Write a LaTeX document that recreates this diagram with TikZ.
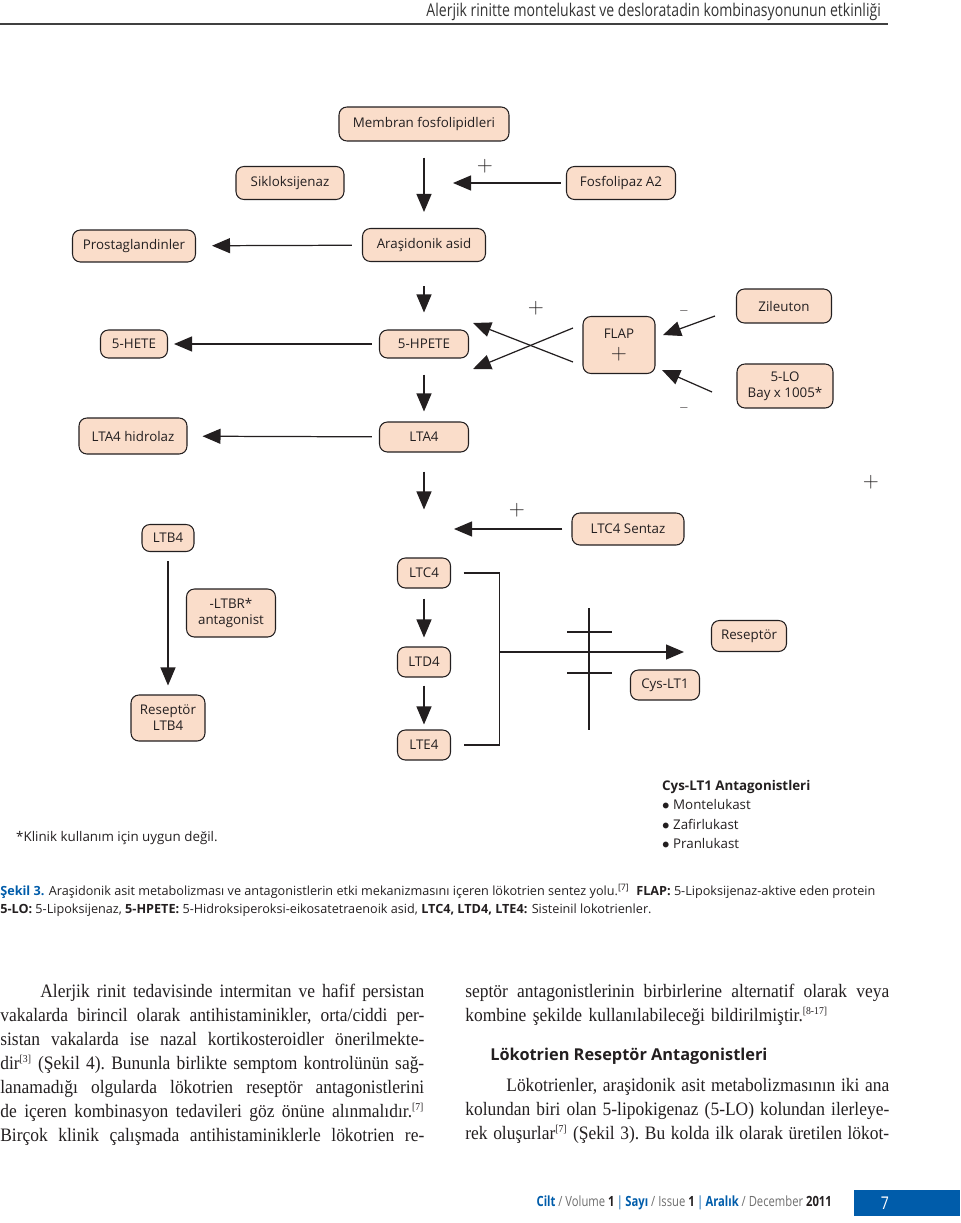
\documentclass[tikz,border=0pt]{standalone}
\usepackage{fontspec}
\usepackage{xcolor}
\usepackage{tikz}
\setmainfont{Liberation Serif}[FakeStretch=0.92]
\setsansfont{Open Sans}
\newfontfamily\narrowsans{Open Sans}[FakeStretch=0.8]
\usetikzlibrary{arrows.meta}
\definecolor{peach}{RGB}{250, 221, 202}
\definecolor{inkblack}{RGB}{35, 31, 32}
\definecolor{journalblue}{RGB}{0, 92, 170}
\definecolor{footgray}{RGB}{110, 110, 110}

\newdimen\bodywidth
\bodywidth=8.48cm
\newcommand{\jline}[1]{\par\hbox to\bodywidth{\spaceskip=0.25em plus 1em minus 0.08em\relax #1}}
\newcommand{\lline}[1]{\par\hbox to\bodywidth{#1\hfil}}
\newcommand{\refmark}[1]{\textsuperscript{\fontsize{6}{6}\selectfont[#1]}}

\begin{document}
\begin{tikzpicture}[x=0.02cm, y=-0.02cm,
    every node/.style={font=\sffamily\fontsize{7.6}{9}\selectfont, text=inkblack},
    stage/.style={draw=inkblack, line width=0.6pt, fill=peach, rounded corners=4.5pt, inner sep=1pt, align=center},
    arrow/.style={-{Triangle[length=0.36cm, width=0.3cm]}, line width=0.7pt, draw=inkblack},
    link/.style={line width=0.7pt, draw=inkblack},
    plus/.style={font=\fontsize{12.5}{12.5}\selectfont, inner sep=0pt},
    minus/.style={font=\fontsize{6}{6}\selectfont, inner sep=0pt},
    bodytext/.style={font=\rmfamily\fontsize{10.8}{13.66}\selectfont\frenchspacing, text width=8.5cm, inner sep=0pt, anchor=north west}
]
\useasboundingbox (0,0) rectangle (960,1223);

% Running head
\node[font=\narrowsans\fontsize{10}{12}\selectfont, text=black!80, anchor=east] (runhead) at (887,12) {Alerjik rinitte montelukast ve desloratadin kombinasyonunun etkinliği};
\draw[line width=1pt, black!75] (0,24) -- (888,24);

% Top of the pathway
\node[stage, minimum width=3.4cm, minimum height=0.68cm] (memb) at (424,124) {Membran fosfolipidleri};
\node[stage, minimum width=2.16cm, minimum height=0.66cm] (siklo) at (290,183) {Sikloksijenaz};
\node[stage, minimum width=2.18cm, minimum height=0.66cm] (fosfo) at (621,183) {Fosfolipaz A2};
\node[stage, minimum width=2.46cm, minimum height=0.66cm] (arasid) at (424,245) {Araşidonik asid};
\node[stage, minimum width=2.46cm, minimum height=0.64cm] (prosta) at (134,246) {Prostaglandinler};

% 5-LO branch
\node[stage, minimum width=1.78cm, minimum height=0.56cm] (hpete) at (424,344) {5-HPETE};
\node[stage, minimum width=1.34cm, minimum height=0.56cm] (hete) at (134,344) {5-HETE};
\node[stage, minimum width=1.44cm, minimum height=1.14cm] (flap) at (619,345) {FLAP\\[3pt]{\fontsize{12.5}{12.5}\selectfont$+$}};
\node[stage, minimum width=1.9cm, minimum height=0.68cm] (zileu) at (784,306) {Zileuton};
\node[stage, minimum width=1.92cm, minimum height=0.88cm] (fivelo) at (785,386) {5-LO\\[0pt]Bay x 1005*};
\node[stage, minimum width=1.78cm, minimum height=0.6cm] (lta) at (424,437) {LTA4};
\node[stage, minimum width=2.16cm, minimum height=0.72cm] (ltahyd) at (133,436) {LTA4 hidrolaz};

% Leukotrienes
\node[stage, minimum width=2.24cm, minimum height=0.64cm] (ltcsyn) at (628,529) {LTC4 Sentaz};
\node[stage, minimum width=1.04cm, minimum height=0.54cm] (ltb) at (168,538) {LTB4};
\node[stage, minimum width=1.06cm, minimum height=0.6cm] (ltc) at (424,573) {LTC4};
\node[stage, minimum width=1.78cm, minimum height=0.96cm] (ltbr) at (231,613) {-LTBR*\\[0pt]antagonist};
\node[stage, minimum width=1.5cm, minimum height=0.62cm] (resept) at (749,636) {Reseptör};
\node[stage, minimum width=1.06cm, minimum height=0.6cm] (ltd) at (424,662) {LTD4};
\node[stage, minimum width=1.38cm, minimum height=0.6cm] (cyslt) at (665,685) {Cys-LT1};
\node[stage, minimum width=1.48cm, minimum height=0.92cm] (reslt) at (168,718) {Reseptör\\[0pt]LTB4};
\node[stage, minimum width=1.06cm, minimum height=0.6cm] (lte) at (424,745) {LTE4};

% Free ends of connectors
\coordinate (pla2tip) at (453,183);
\coordinate (syntip) at (454,529);
\coordinate (zilstart) at (715,316);
\coordinate (ziltip) at (663,335);
\coordinate (lostart) at (712,392);
\coordinate (lotip) at (662,370);
\coordinate (crossastart) at (573,328);
\coordinate (crossatip) at (473,369);
\coordinate (crossbstart) at (573,362);
\coordinate (crossbtip) at (473,323);
\coordinate (join) at (499,652);
\coordinate (receptip) at (684,652);

% Signs
\node[plus] (plusa) at (485,166) {$+$};
\node[plus] (plusb) at (536,308) {$+$};
\node[plus] (plusc) at (517,510) {$+$};
\node[plus] (plusd) at (871,482) {$+$};
\node[minus] (minusa) at (684,311) {$-$};
\node[minus] (minusb) at (684,408) {$-$};

% Connections
\draw[arrow, shorten <=0.32cm, shorten >=0.32cm] (memb) -- (arasid);
\draw[arrow, shorten <=0.1cm] (fosfo) -- (pla2tip);
\draw[arrow, shorten <=0.2cm, shorten >=0.32cm] (arasid) -- (prosta);
\draw[arrow, shorten <=0.48cm, shorten >=0.34cm] (arasid) -- (hpete);
\draw[arrow, shorten <=0.14cm, shorten >=0.12cm] (hpete) -- (hete);
\draw[arrow, shorten <=0.32cm, shorten >=0.2cm] (hpete) -- (lta);
\draw[arrow, shorten <=0.14cm, shorten >=0.3cm] (lta) -- (ltahyd);
\draw[arrow] (zilstart) -- (ziltip);
\draw[arrow] (lostart) -- (lotip);
\draw[arrow] (crossastart) -- (crossatip);
\draw[arrow] (crossbstart) -- (crossbtip);
\draw[arrow, shorten <=0.38cm, shorten >=0.96cm] (lta) -- (ltc);
\draw[arrow, shorten <=0.18cm] (ltcsyn) -- (syntip);
\draw[arrow, shorten <=0.2cm, shorten >=0.18cm] (ltc) -- (ltd);
\draw[arrow, shorten <=0.16cm, shorten >=0.1cm] (ltd) -- (lte);
\draw[arrow, shorten <=0.18cm, shorten >=0.18cm] (ltb) -- (reslt);
\draw[link] ([xshift=0.25cm]ltc.east) -- ++(36,0) |- ([xshift=0.25cm]lte.east);
\draw[arrow] (join) -- (receptip);

% Membrane with receptor
\draw[link] (589,608) -- (589,730);
\draw[link] (567,632) -- (612,632);
\draw[link] (567,673) -- (612,673);

% Notes under the figure
\node[anchor=north west, align=left, font=\sffamily\fontsize{7.6}{11.1}\selectfont] (antag) at (656,774)
  {\textbf{Cys-LT1 Antagonistleri}\\$\bullet$ Montelukast\\$\bullet$ Zafirlukast\\$\bullet$ Pranlukast};
\node[anchor=west] (clinic) at (10,838) {*Klinik kullanım için uygun değil.};

% Caption
\node[anchor=west, font=\sffamily\fontsize{7.2}{8}\selectfont, inner sep=0pt] (capa) at (0,891)
  {\textcolor{journalblue}{\bfseries Şekil 3.} Araşidonik asit metabolizması ve antagonistlerin etki mekanizmasını içeren lökotrien sentez yolu.\textsuperscript{[7]}\ \ \textbf{FLAP:} 5-Lipoksijenaz-aktive eden protein};
\node[anchor=west, font=\sffamily\fontsize{7.2}{8}\selectfont, inner sep=0pt] (capb) at (0,910)
  {\textbf{5-LO:} 5-Lipoksijenaz, \textbf{5-HPETE:} 5-Hidroksiperoksi-eikosatetraenoik asid, \textbf{LTC4, LTD4, LTE4:} Sisteinil lokotrienler.};

% Body text
\node[bodytext] (colleft) at (0,973) {%
\jline{\hskip 0.8cm Alerjik rinit tedavisinde intermitan ve hafif persistan}%
\jline{vakalarda birincil olarak antihistaminikler, orta/ciddi per-}%
\jline{sistan vakalarda ise nazal kortikosteroidler önerilmekte-}%
\jline{dir\refmark{3} (Şekil 4). Bununla birlikte semptom kontrolünün sağ-}%
\jline{lanamadığı olgularda lökotrien reseptör antagonistlerini}%
\jline{de içeren kombinasyon tedavileri göz önüne alınmalıdır.\refmark{7}}%
\jline{Birçok klinik çalışmada antihistaminiklerle lökotrien re-}};
\node[bodytext] (colright) at (465,973) {%
\jline{septör antagonistlerinin birbirlerine alternatif olarak veya}%
\lline{kombine şekilde kullanılabileceği bildirilmiştir.\refmark{8-17}}};
\node[anchor=west, font=\sffamily\bfseries\fontsize{9.3}{11}\selectfont, inner sep=0pt] (heading) at (490,1056) {Lökotrien Reseptör Antagonistleri};
\node[bodytext] (colrightb) at (465,1067) {%
\jline{\hskip 0.82cm Lökotrienler, araşidonik asit metabolizmasının iki ana}%
\jline{kolundan biri olan 5-lipokigenaz (5-LO) kolundan ilerleye-}%
\jline{rek oluşurlar\refmark{7} (Şekil 3). Bu kolda ilk olarak üretilen lökot-}};

% Footer
\node[anchor=east, font=\narrowsans\fontsize{8}{10}\selectfont, text=footgray] (issue) at (838,1203)
  {\textcolor{journalblue}{\bfseries Cilt} / Volume \textcolor{inkblack}{\bfseries 1}\,\textcolor{journalblue}{|}\,\textcolor{journalblue}{\bfseries Sayı} / Issue \textcolor{inkblack}{\bfseries 1}\,\textcolor{journalblue}{|}\,\textcolor{journalblue}{\bfseries Aralık} / December \textcolor{inkblack}{\bfseries 2011}};
\fill[journalblue] (854,1190) rectangle (960,1216);
\node[text=white, font=\narrowsans\fontsize{10}{12}\selectfont] (pagenum) at (885,1203) {7};

\end{tikzpicture}
\end{document}
